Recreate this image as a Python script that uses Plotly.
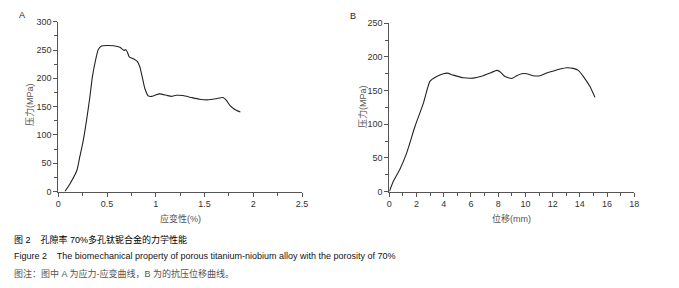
import plotly.graph_objects as go

# Panel A: stress-strain
strain_a = [0.068, 0.12, 0.19, 0.22, 0.256, 0.29, 0.324, 0.35, 0.386, 0.41, 0.444, 0.495, 0.564, 0.632,
            0.66, 0.676, 0.69, 0.707, 0.727, 0.768, 0.81, 0.837, 0.864, 0.888, 0.922, 0.956, 0.99, 1.04,
            1.11, 1.16, 1.21, 1.28, 1.366, 1.45, 1.537, 1.62, 1.69, 1.725, 1.76, 1.81, 1.868]
stress_a = [0, 13.6, 37, 61, 90, 126, 167, 203, 235, 251, 257, 258, 257.5, 255,
            251, 249, 251, 247, 238, 234.5, 230, 220, 200, 182, 169, 168, 170, 172.5,
            170, 168, 170, 169.5, 166, 163, 162, 164, 166, 161, 152, 145, 140.5]

# Panel B: load-displacement
disp_b = [0, 0.29, 0.78, 1.27, 1.89, 2.5, 2.99, 3.48, 3.97, 4.26, 4.7, 5.44, 6.17, 6.9, 7.52, 7.89,
          8.13, 8.5, 8.99, 9.36, 9.72, 10.09, 10.58, 11.07, 11.56, 12.05, 12.54, 13.03, 13.52, 13.89,
          14.25, 14.74, 15.11]
stress_b = [0, 15, 33, 57, 97, 131, 164, 171, 175, 176, 173, 169, 168.5, 172, 177, 180,
            178, 171, 168, 172, 175, 175, 172, 172, 176, 179, 182, 184, 183, 180,
            171, 156, 140]

xa_ticks = [0, 0.5, 1, 1.5, 2, 2.5]
xa_labels = ["0", "0.5", "1", "1.5", "2", "2.5"]
ya_ticks = [0, 50, 100, 150, 200, 250, 300]
xb_ticks = [0, 2, 4, 6, 8, 10, 12, 14, 16, 18]
yb_ticks = [0, 50, 100, 150, 200, 250]

caption1 = "图 2    孔隙率 70%多孔钛铌合金的力学性能"
caption2 = "Figure 2    The biomechanical property of porous titanium-niobium alloy with the porosity of 70%"
caption3 = "图注：图中 A 为应力-应变曲线，B 为的抗压位移曲线。"

# page has an 8px body margin: figure occupies window pixels 8..679 x 8..288
OFF = 8
W, H = 679 - OFF, 288 - OFF

def px(x):
    return (x - OFF) / W

def py(y):
    return 1 - (y - OFF) / H

fig = go.Figure()
line = dict(color="#222222", width=1.1, shape="spline", smoothing=0.5)
fig.add_trace(go.Scatter(x=strain_a, y=stress_a, mode="lines", line=line, xaxis="x", yaxis="y",
                         showlegend=False, hoverinfo="skip"))
fig.add_trace(go.Scatter(x=disp_b, y=stress_b, mode="lines", line=line, xaxis="x2", yaxis="y2",
                         showlegend=False, hoverinfo="skip"))

tickfont = dict(family="Liberation Sans, Arial", size=9, color="#333333")
common = dict(showline=True, linecolor="#555555", linewidth=1, ticks="outside", ticklen=4,
              tickcolor="#555555", tickwidth=1, showgrid=False, zeroline=False, tickfont=tickfont,
              mirror=False, automargin=False)
minor_c = dict(ticks="outside", ticklen=3, tick0=0, tickcolor="#555555")
ybot = py(191.5)
fig.update_layout(
    width=W, height=H, margin=dict(l=0, r=0, t=0, b=0, autoexpand=False),
    paper_bgcolor="white", plot_bgcolor="white",
    xaxis=dict(domain=[px(58.3), px(302)], range=[0, 2.5], tickvals=xa_ticks, ticktext=xa_labels,
               anchor="y", minor=dict(dtick=0.25, **minor_c), **common),
    yaxis=dict(domain=[ybot, py(21.7)], range=[0, 300], tickvals=ya_ticks, anchor="x",
               minor=dict(dtick=25, **minor_c), **common),
    xaxis2=dict(domain=[px(389.3), px(634.3)], range=[0, 18], tickvals=xb_ticks, anchor="y2",
                minor=dict(dtick=1, **minor_c), **common),
    yaxis2=dict(domain=[ybot, py(23.3)], range=[0, 250], tickvals=yb_ticks, anchor="x2",
                minor=dict(dtick=25, **minor_c), **common),
)

def ann(text, x, y, size=9, color="#555555", xanchor="center", textangle=0,
        family="Liberation Sans, Noto Sans CJK SC"):
    fig.add_annotation(text=text, x=px(x), y=py(y), xref="paper", yref="paper", showarrow=False,
                       xanchor=xanchor, yanchor="middle", textangle=textangle,
                       font=dict(size=size, color=color, family=family))

ann("A", 22, 15, size=9, color="#222222")
ann("B", 353, 16, size=9, color="#222222")
ann("压力(MPa)", 29, 105, textangle=-90)
ann("压力(MPa)", 362, 107, textangle=-90)
ann("应变性(%)", 180, 218)
ann("位移(mm)", 511, 218)
cap_font = "Liberation Sans, Noto Sans CJK SC"
ann(caption1, 12, 239, size=9, color="#000000", xanchor="left", family=cap_font)
ann(caption2, 12, 256, size=9, color="#111111", xanchor="left", family=cap_font)
ann(caption3, 12, 273, size=9, color="#555555", xanchor="left", family=cap_font)

fig.write_html("out.html")
